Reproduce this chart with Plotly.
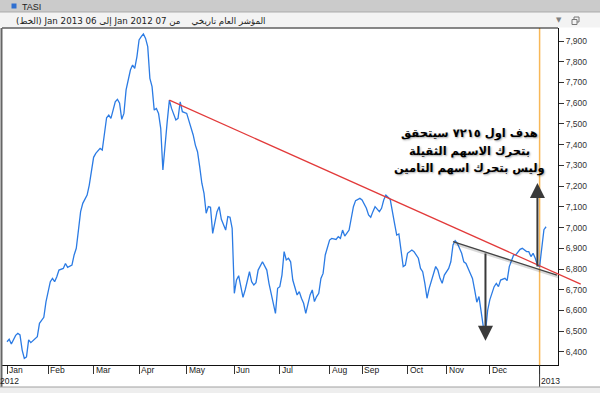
import plotly.graph_objects as go

# ---------------- data (trading-session index since 07 Jan 2012) ----------------
trading_day = [0, 1, 2, 4, 5, 6, 7, 8, 9, 10, 11, 14, 15, 16, 17, 18, 20, 21, 22, 23, 24, 26, 27, 28, 30, 31, 32, 33, 34, 35, 37, 38,
               40, 41, 43, 44, 45, 46, 47, 48, 49, 50, 51, 52, 53, 54, 55, 57, 58, 59, 60, 61, 62, 63, 64, 65, 66, 67, 68, 69, 70,
               71, 72, 73, 74, 75, 76, 78, 79, 80, 81, 83, 84, 86, 87, 88, 89, 90, 91, 92, 93, 94, 95, 96, 97, 98, 99, 101, 102,
               103, 104, 105, 106, 107, 108, 109, 110, 112, 113, 114, 115, 116, 118, 120, 121, 122, 124, 125, 126, 127, 128, 129,
               130, 131, 132, 134, 135, 136, 137, 138, 139, 140, 141, 142, 143, 144, 145, 146, 147, 148, 149, 150, 152, 153, 154,
               155, 156, 158, 160, 161, 163, 164, 166, 167, 168, 169, 170, 172, 173, 174, 175, 177, 178, 179, 180, 181, 183, 184,
               185, 187, 188, 190, 191, 192, 193, 194, 195, 197, 198, 199, 200, 201, 202, 204, 205, 206, 207, 208, 210, 211, 212,
               214, 215, 216, 217, 218, 219, 220, 221, 222, 223, 224, 225, 226, 227, 228, 230, 231, 232, 234, 235, 237, 238, 240,
               241, 242, 243, 244, 245, 246, 247, 248, 249]
close = [6449, 6461, 6438, 6480, 6490, 6482, 6409, 6369, 6376, 6458, 6445, 6474, 6538, 6554, 6567, 6642, 6739, 6755, 6739, 6763,
         6795, 6803, 6827, 6808, 6819, 6868, 6900, 6988, 7077, 7117, 7157, 7205,
         7339, 7358, 7382, 7374, 7447, 7530, 7543, 7527, 7567, 7607, 7619, 7600, 7522, 7551, 7664, 7760, 7784, 7768, 7824,
         7905, 7921, 7934, 7913, 7873, 7720, 7680, 7567, 7575, 7551,
         7479, 7278, 7414, 7511, 7615, 7575, 7519, 7527, 7607, 7559, 7551, 7519, 7447, 7398, 7366, 7294, 7214, 7165, 7069,
         7101, 7098, 6972, 7020, 7077, 7101, 7040, 6988, 7053,
         7050, 6996, 6683, 6747, 6768, 6723, 6663, 6699, 6787, 6739, 6723, 6734, 6795, 6835, 6795, 6731, 6683, 6586, 6707,
         6715, 6771, 6884, 6844,
         6852, 6835, 6747, 6675, 6691, 6659, 6635, 6586, 6626, 6675, 6699, 6643, 6667, 6683, 6755, 6779, 6868, 6900, 6940,
         6948, 6943, 6956, 6948,
         6988, 6959, 6988, 7101, 7130, 7141, 7133, 7093, 7061, 7050, 7077, 7101, 7077, 7093, 7133, 7157, 7136, 7085, 7020,
         6964, 6969, 6812, 6819,
         6876, 6892, 6884, 6852, 6803, 6787, 6731, 6659, 6707, 6779, 6812, 6795, 6755, 6731, 6771, 6803, 6835, 6916, 6937,
         6924, 6876, 6835, 6827,
         6779, 6755, 6699, 6640, 6667, 6600, 6522, 6498, 6600, 6651, 6683, 6715, 6731, 6715, 6747, 6755, 6744, 6812, 6868,
         6868, 6895, 6900, 6884,
         6884, 6860, 6876, 6852, 6819, 6812, 6900, 6990, 7004]

month_ticks = [0, 19, 40, 61, 83, 105, 126, 149, 164, 185, 203, 223, 246]
month_labels = ["Jan", "Feb", "Mar", "Apr", "May", "Jun", "Jul", "Aug", "Sep", "Oct", "Nov", "Dec", ""]
year_ticks = [0, 246]
year_labels = ["2012", "2013"]
y_ticks = [6400, 6500, 6600, 6700, 6800, 6900, 7000, 7100, 7200, 7300, 7400, 7500, 7600, 7700, 7800, 7900]

# analyst drawings
red_trend_days = [75, 265]
red_trend_vals = [7615, 6727]
neck_days = [206, 254]
neck_vals = [6932, 6771]
down_arrow_day = 221
down_arrow_vals = [6882, 6454]
up_arrow_day = 245
up_arrow_vals = [6805, 7215]
marker_day = 246

title_text = "المؤشر العام تاريخي\u00a0\u00a0\u00a0 من 07 Jan 2012 إلى 06 Jan 2013 (الخط)"
note_lines = ["هدف اول ٧٢١٥ سيتحقق", "بتحرك الاسهم الثقيلة", "وليس بتحرك اسهم التامين"]
note_line_px = [133, 150.5, 168]

# ---------------- layout geometry ----------------
W, H = 600, 393
L, R, T, B = 2, 558, 28, 365
X_RANGE = [-2.31, 254.5]
Y_RANGE = [6337, 7963]


def px_x(p):
    return (p - L) / (R - L)


def px_y(p):
    return (B - p) / (B - T)


def dx_paper(d):
    return (d - X_RANGE[0]) / (X_RANGE[1] - X_RANGE[0])


def dy_paper(v):
    return (v - Y_RANGE[0]) / (Y_RANGE[1] - Y_RANGE[0])


fig = go.Figure()
fig.add_trace(go.Scatter(x=trading_day, y=close, mode="lines",
                         line=dict(color="#2b7be4", width=1.3), hoverinfo="skip", showlegend=False))

shapes = []
# orange current-date line
shapes.append(dict(type="line", xref="x", yref="paper", x0=marker_day, x1=marker_day, y0=0, y1=1,
                   line=dict(color="#f8b858", width=1.5), layer="below"))
# red trend line (extends past the plot edge)
shapes.append(dict(type="line", xref="paper", yref="paper",
                   x0=dx_paper(red_trend_days[0]), y0=dy_paper(red_trend_vals[0]),
                   x1=dx_paper(red_trend_days[1]), y1=dy_paper(red_trend_vals[1]),
                   line=dict(color="#e23a3a", width=1.2)))
# neckline (shadow + line)
shapes.append(dict(type="line", xref="x", yref="y", x0=neck_days[0] + 0.8, y0=neck_vals[0] - 9,
                   x1=neck_days[1] + 0.8, y1=neck_vals[1] - 9,
                   line=dict(color="rgba(0,0,0,0.15)", width=3)))
shapes.append(dict(type="line", xref="x", yref="y", x0=neck_days[0], y0=neck_vals[0],
                   x1=neck_days[1], y1=neck_vals[1], line=dict(color="#444444", width=1.3)))
# frame: top border and left border
shapes.append(dict(type="line", xref="paper", yref="paper", x0=0, x1=1, y0=1, y1=1,
                   line=dict(color="#111111", width=1)))
shapes.append(dict(type="line", xref="paper", yref="paper", x0=px_x(1.5), x1=px_x(1.5), y0=1, y1=px_y(387),
                   line=dict(color="#666666", width=2)))
# year ticks (long)
for yt in year_ticks[1:]:
    shapes.append(dict(type="line", xref="x", yref="paper", x0=yt, x1=yt, y0=0, y1=px_y(387),
                       line=dict(color="#333333", width=1)))
# header bars
shapes.append(dict(type="rect", xref="paper", yref="paper", x0=px_x(0), x1=px_x(600), y0=px_y(0), y1=px_y(12),
                   fillcolor="#cbcbcb", line=dict(width=0), layer="below"))
shapes.append(dict(type="line", xref="paper", yref="paper", x0=px_x(0), x1=px_x(600), y0=px_y(12), y1=px_y(12),
                   line=dict(color="#a8a8a8", width=1)))
shapes.append(dict(type="rect", xref="paper", yref="paper", x0=px_x(0), x1=px_x(600), y0=px_y(12.5), y1=px_y(27.5),
                   fillcolor="#f3f3f3", line=dict(width=0), layer="below"))
shapes.append(dict(type="rect", xref="paper", yref="paper", x0=px_x(11.5), x1=px_x(16.5), y0=px_y(3.5), y1=px_y(8.5),
                   fillcolor="#2f6fd0", line=dict(width=0)))
# window icon
shapes.append(dict(type="rect", xref="paper", yref="paper", x0=px_x(574), x1=px_x(579), y0=px_y(17), y1=px_y(22),
                   line=dict(color="#777777", width=1), fillcolor="rgba(0,0,0,0)"))
shapes.append(dict(type="rect", xref="paper", yref="paper", x0=px_x(572), x1=px_x(577), y0=px_y(19.5), y1=px_y(24.5),
                   line=dict(color="#777777", width=1), fillcolor="#f3f3f3"))
# bottom scroll bar
shapes.append(dict(type="rect", xref="paper", yref="paper", x0=px_x(0), x1=px_x(600), y0=px_y(387), y1=px_y(393),
                   fillcolor="#eeeeee", line=dict(width=0), layer="below"))
shapes.append(dict(type="line", xref="paper", yref="paper", x0=px_x(0), x1=px_x(600), y0=px_y(387), y1=px_y(387),
                   line=dict(color="#a0a0a0", width=1)))

annotations = []
lab_font = dict(family="Liberation Sans, Arial, sans-serif", size=8.5, color="#222222")
for t, lab in zip(month_ticks, month_labels):
    if lab:
        annotations.append(dict(x=t, xref="x", y=px_y(370), yref="paper", text=lab, showarrow=False,
                                xanchor="left", yanchor="middle", font=lab_font, borderpad=0, xshift=1))
annotations.append(dict(x=year_ticks[0], xref="x", y=px_y(381), yref="paper", text=year_labels[0], showarrow=False,
                        xanchor="center", yanchor="middle", font=lab_font, borderpad=0, xshift=2))
annotations.append(dict(x=year_ticks[1], xref="x", y=px_y(381), yref="paper", text=year_labels[1], showarrow=False,
                        xanchor="left", yanchor="middle", font=lab_font, borderpad=0, xshift=0))
# header texts
annotations.append(dict(x=px_x(21), xref="paper", y=px_y(7), yref="paper", text="TASI", showarrow=False,
                        xanchor="left", yanchor="middle", borderpad=0,
                        font=dict(family="Liberation Sans, Arial, sans-serif", size=9, color="#222222")))
annotations.append(dict(x=px_x(15), xref="paper", y=px_y(21), yref="paper",
                        text="\u202b" + title_text + "\u202c", showarrow=False,
                        xanchor="left", yanchor="middle", borderpad=0,
                        font=dict(family="DejaVu Sans, sans-serif", size=8.7, color="#222222")))
annotations.append(dict(x=px_x(559), xref="paper", y=px_y(20.5), yref="paper", text="▼", showarrow=False,
                        xanchor="center", yanchor="middle", borderpad=0,
                        font=dict(family="DejaVu Sans, sans-serif", size=7, color="#808080")))
# analyst note (one annotation per line)
for line_text, ypx in zip(note_lines, note_line_px):
    annotations.append(dict(x=px_x(469), xref="paper", y=px_y(ypx), yref="paper",
                            text=line_text, showarrow=False, align="center",
                            xanchor="center", yanchor="middle", borderpad=0,
                            font=dict(family="DejaVu Sans, sans-serif", size=11.5, color="#000000",
                                      weight="bold", shadow="1px 1px 2px rgba(0,0,0,0.35)")))
# arrows
for d, vals in [(down_arrow_day, down_arrow_vals), (up_arrow_day, up_arrow_vals)]:
    annotations.append(dict(x=d, y=vals[1], xref="x", yref="y", ax=d, ay=vals[0], axref="x", ayref="y",
                            text="", showarrow=True, arrowhead=2, arrowsize=1.5, arrowwidth=2,
                            arrowcolor="#3a3a3a", standoff=0))

fig.update_layout(
    width=W, height=H, template="none",
    margin=dict(l=L, r=W - R, t=T, b=H - B, pad=0),
    paper_bgcolor="white", plot_bgcolor="white",
    showlegend=False,
    shapes=shapes, annotations=annotations,
    xaxis=dict(range=X_RANGE, showgrid=False, zeroline=False, showline=True, linecolor="#111111", linewidth=1,
               tickmode="array", tickvals=month_ticks, ticks="outside", ticklen=8, tickcolor="#333333",
               tickwidth=1, showticklabels=False, automargin=False, fixedrange=True),
    yaxis=dict(range=Y_RANGE, side="right", showgrid=False, zeroline=False, showline=True, linecolor="#111111",
               linewidth=1, tickmode="array", tickvals=y_ticks, ticktext=[f"{v:,}" for v in y_ticks],
               ticks="outside", ticklen=5, tickcolor="#333333", tickwidth=1,
               tickfont=dict(family="Liberation Sans, Arial, sans-serif", size=8.5, color="#333333"),
               automargin=False, fixedrange=True),
)

fig.write_html("out.html", config={"displayModeBar": False},
               post_script="document.body.style.margin='0px';document.body.style.padding='0px';")
